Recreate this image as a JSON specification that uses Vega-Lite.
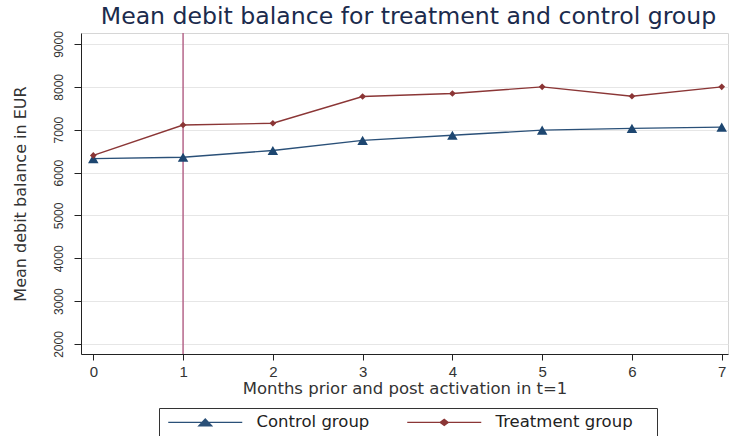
{
  "$schema": "https://vega.github.io/schema/vega-lite/v6.json",
  "width": 647,
  "height": 321,
  "autosize": "none",
  "padding": {"left": 81, "top": 33, "right": 1, "bottom": 82},
  "background": "white",
  "config": {
    "font": "DejaVu Sans",
    "view": {"stroke": "#d6d6d6", "strokeWidth": 1},
    "axis": {"domainColor": "#222222", "tickColor": "#222222", "labelColor": "#333333", "titleColor": "#333333", "titleFontWeight": "normal", "labelFont": "Liberation Sans", "titleFont": "DejaVu Sans"}
  },
  "title": {
    "text": "Mean debit balance for treatment and control group",
    "fontSize": 23.6,
    "fontWeight": "normal",
    "color": "#1b2b4d",
    "anchor": "middle",
    "offset": 2,
    "dx": 4,
    "font": "DejaVu Sans"
  },
  "datasets": {
    "series": [
      {"month": 0, "group": "Control group", "balance": 6326},
      {"month": 1, "group": "Control group", "balance": 6356},
      {"month": 2, "group": "Control group", "balance": 6515},
      {"month": 3, "group": "Control group", "balance": 6750},
      {"month": 4, "group": "Control group", "balance": 6870},
      {"month": 5, "group": "Control group", "balance": 6990},
      {"month": 6, "group": "Control group", "balance": 7030},
      {"month": 7, "group": "Control group", "balance": 7060},
      {"month": 0, "group": "Treatment group", "balance": 6400},
      {"month": 1, "group": "Treatment group", "balance": 7110},
      {"month": 2, "group": "Treatment group", "balance": 7150},
      {"month": 3, "group": "Treatment group", "balance": 7775},
      {"month": 4, "group": "Treatment group", "balance": 7845},
      {"month": 5, "group": "Treatment group", "balance": 8000},
      {"month": 6, "group": "Treatment group", "balance": 7780},
      {"month": 7, "group": "Treatment group", "balance": 8000}
    ],
    "activation": [{"month": 1}]
  },
  "layer": [
    {
      "data": {"name": "activation"},
      "mark": {"type": "rule", "color": "#b5668a", "strokeWidth": 1.5},
      "encoding": {
        "x": {"field": "month", "type": "quantitative", "scale": {"domain": [-0.137, 7.07], "nice": false, "zero": false}}
      }
    },
    {
      "data": {"name": "series"},
      "mark": {"type": "line", "strokeWidth": 1.4},
      "encoding": {
        "x": {
          "field": "month", "type": "quantitative",
          "scale": {"domain": [-0.137, 7.07], "nice": false, "zero": false},
          "axis": {
            "title": "Months prior and post activation in t=1",
            "values": [0, 1, 2, 3, 4, 5, 6, 7],
            "format": "d",
            "grid": false,
            "tickSize": 6,
            "labelFontSize": 15,
            "labelPadding": 4,
            "titleFontSize": 16.5,
            "titlePadding": 1
          }
        },
        "y": {
          "field": "balance", "type": "quantitative",
          "scale": {"domain": [1767, 9256], "nice": false, "zero": false},
          "axis": {
            "title": "Mean debit balance in EUR",
            "values": [2000, 3000, 4000, 5000, 6000, 7000, 8000, 9000],
            "format": "d",
            "grid": true,
            "gridColor": "#e6e6e6",
            "tickSize": 7,
            "labelAngle": -90,
            "labelFontSize": 12,
            "labelPadding": 9,
            "titleFontSize": 16,
            "titlePadding": 24
          }
        },
        "color": {
          "field": "group", "type": "nominal",
          "scale": {"domain": ["Control group", "Treatment group"], "range": ["#2a5078", "#8b3636"]},
          "legend": {
            "title": "\u00a0",
            "titleOrient": "right",
            "titlePadding": 18,
            "titleFontSize": 12,
            "orient": "none",
            "legendX": 78,
            "legendY": 375,
            "direction": "horizontal",
            "padding": 6,
            "strokeColor": "#333333",
            "labelFontSize": 16.5,
            "labelColor": "#222222",
            "labelFont": "DejaVu Sans",
            "symbolSize": 100,
            "symbolStrokeWidth": 1.3,
            "symbolOpacity": 1,
            "symbolOffset": 32,
            "labelOffset": 43,
            "columnPadding": 34
          }
        }
      }
    },
    {
      "data": {"name": "series"},
      "mark": {"type": "point", "filled": false, "opacity": 0, "size": 100, "strokeWidth": 1.3},
      "encoding": {
        "x": {"field": "month", "type": "quantitative", "scale": {"domain": [-0.137, 7.07], "nice": false, "zero": false}},
        "y": {"field": "balance", "type": "quantitative", "scale": {"domain": [1767, 9256], "nice": false, "zero": false}},
        "color": {
          "field": "group", "type": "nominal",
          "scale": {"domain": ["Control group", "Treatment group"], "range": ["#2a5078", "#8b3636"]}
        },
        "shape": {
          "field": "group", "type": "nominal",
          "scale": {
            "domain": ["Control group", "Treatment group"],
            "range": [
              "M-7.4,0H7.4M-1.3,0.7L0,-0.7L1.3,0.7ZM-0.91,0.49L0,-0.49L0.91,0.49ZM-0.52,0.28L0,-0.28L0.52,0.28ZM-0.13,0.07L0,-0.07L0.13,0.07Z",
              "M-7.4,0H7.4M-0.8,0L0,-0.6L0.8,0L0,0.6ZM-0.48,0L0,-0.36L0.48,0L0,0.36ZM-0.2,0L0,-0.15L0.2,0L0,0.15Z"
            ]
          }
        }
      }
    },
    {
      "data": {"name": "series"},
      "transform": [{"filter": "datum.group === 'Control group'"}],
      "mark": {"type": "point", "filled": true, "opacity": 1, "shape": "triangle-up", "size": 110, "color": "#1d4670"},
      "encoding": {
        "x": {"field": "month", "type": "quantitative", "scale": {"domain": [-0.137, 7.07], "nice": false, "zero": false}},
        "y": {"field": "balance", "type": "quantitative", "scale": {"domain": [1767, 9256], "nice": false, "zero": false}}
      }
    },
    {
      "data": {"name": "series"},
      "transform": [{"filter": "datum.group === 'Treatment group'"}],
      "mark": {"type": "point", "filled": true, "opacity": 1, "shape": "diamond", "size": 45, "color": "#8b3535"},
      "encoding": {
        "x": {"field": "month", "type": "quantitative", "scale": {"domain": [-0.137, 7.07], "nice": false, "zero": false}},
        "y": {"field": "balance", "type": "quantitative", "scale": {"domain": [1767, 9256], "nice": false, "zero": false}}
      }
    }
  ]
}
